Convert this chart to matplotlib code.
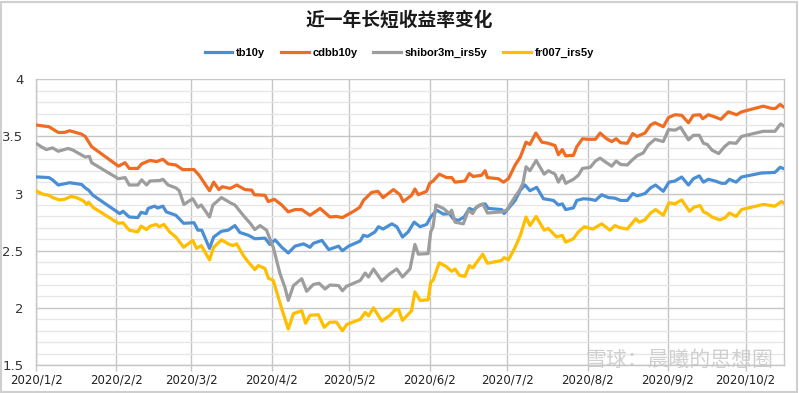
import matplotlib
matplotlib.use("Agg")
import matplotlib.pyplot as plt
from matplotlib.patches import Rectangle
from matplotlib.ticker import MultipleLocator
import pandas as pd

plt.rcParams['font.family'] = ['DejaVu Sans', 'Noto Sans CJK SC']

start_date = "2020-01-02"
tick_dates = ["2020-01-02", "2020-02-02", "2020-03-02", "2020-04-02", "2020-05-02",
              "2020-06-02", "2020-07-02", "2020-08-02", "2020-09-02", "2020-10-02"]
tick_labels = ["2020/1/2", "2020/2/2", "2020/3/2", "2020/4/2", "2020/5/2",
               "2020/6/2", "2020/7/2", "2020/8/2", "2020/9/2", "2020/10/2"]
series_names = ["tb10y", "cdbb10y", "shibor3m_irs5y", "fr007_irs5y"]
title = "近一年长短收益率变化"

# days since 2020-01-02, values (%)
tb10y_days = [0, 5, 6.4, 8.6, 13, 17.6, 19, 20.3, 22, 32.3, 33.6, 36, 39.3, 40.6, 42.5, 43.3, 45.8, 47, 49, 50.3,
              54, 57, 61, 62.5, 64, 67, 68.6, 71.6, 74.2, 76.8, 78.7, 82, 84.5, 88.4, 90.3, 92.3, 94.9, 97.4, 100,
              103.3, 105.8, 107.1, 110.4, 113, 116.8, 118.3, 120.7, 125.2, 126.4, 128, 130.9, 132.2, 134, 137.4,
              139.3, 141.5, 143.7, 146, 148.3, 150.8, 152.4, 154.7, 157.3, 159.6, 161.1, 163, 165.3, 167.3, 168.8,
              171.4, 173.4, 174.6, 179.8, 180.7, 182.4, 185, 187, 188.8, 190.7, 193.3, 195.9, 199.8, 201.7, 203.2,
              204.5, 207.5, 208.8, 211.4, 214, 216, 218.4, 221, 223.5, 225.7, 228.3, 230.4, 232.1, 235.1, 237.3,
              239.2, 242.2, 244.4, 246.7, 249.3, 251.9, 253.8, 256.1, 257.7, 259.6, 262.2, 264.7, 266.2, 267.7,
              270.3, 272.4, 280.1, 285.3, 287.3, 288.5]
tb10y = [3.146, 3.14, 3.12, 3.075, 3.095, 3.08, 3.05, 3.03, 2.985, 2.825, 2.845, 2.795, 2.79, 2.836, 2.825, 2.87,
         2.89, 2.874, 2.89, 2.84, 2.81, 2.74, 2.745, 2.68, 2.68, 2.52, 2.62, 2.67, 2.68, 2.72, 2.66, 2.635, 2.605,
         2.61, 2.555, 2.595, 2.53, 2.48, 2.54, 2.56, 2.53, 2.565, 2.59, 2.51, 2.54, 2.50, 2.54, 2.585, 2.635, 2.625,
         2.665, 2.71, 2.69, 2.735, 2.71, 2.62, 2.665, 2.75, 2.71, 2.73, 2.795, 2.855, 2.82, 2.825, 2.78, 2.765,
         2.795, 2.87, 2.855, 2.90, 2.91, 2.87, 2.86, 2.825, 2.87, 2.94, 3.03, 3.075, 3.025, 3.055, 2.955, 2.94,
         2.90, 2.91, 2.86, 2.875, 2.94, 2.955, 2.95, 2.94, 2.99, 2.965, 2.96, 2.94, 2.94, 3.00, 2.98, 3.00, 3.05,
         3.075, 3.02, 3.10, 3.11, 3.145, 3.075, 3.13, 3.155, 3.10, 3.125, 3.11, 3.09, 3.09, 3.125, 3.10, 3.145,
         3.18, 3.185, 3.23, 3.22]

cdbb10y_days = [0, 5, 8.6, 11, 13, 17.6, 19, 21.5, 31.8, 34.4, 36, 39.3, 40.8, 44, 46.6, 49, 51, 54, 56.6, 61, 63,
                67, 68.6, 70.6, 72, 75, 77.5, 80.7, 83.3, 84.3, 88.4, 89.7, 92, 94.9, 97.4, 100, 102.6, 105.8,
                109.7, 113.5, 116, 118.3, 123, 125, 126.4, 129.6, 132, 134, 138, 140.5, 141.8, 145, 146.3, 147.6,
                150.8, 152, 153.3, 155.7, 158.5, 160.5, 161.8, 165.6, 167.3, 168.8, 172, 173.4, 174.3, 178.5,
                180.5, 182.4, 185, 187, 189.2, 190.7, 193, 195.3, 197.8, 200.4, 201.7, 203.2, 204.5, 207.5, 208.8,
                211, 213, 216, 217.8, 220.3, 222.3, 224, 225.7, 228.3, 230.4, 232.1, 235.1, 237.3, 239, 242.2,
                244.2, 246.7, 249.3, 251.9, 253.8, 256.4, 257.4, 259.6, 262.2, 264.4, 267.3, 270.5, 272.4, 280.8,
                284, 285.5, 287.3, 288.5]
cdbb10y = [3.60, 3.585, 3.535, 3.535, 3.55, 3.52, 3.50, 3.41, 3.24, 3.27, 3.22, 3.22, 3.26, 3.29, 3.28, 3.30,
           3.26, 3.25, 3.21, 3.21, 3.16, 3.025, 3.10, 3.035, 3.06, 3.045, 3.075, 3.035, 3.03, 2.99, 2.985, 2.93,
           2.95, 2.90, 2.84, 2.86, 2.86, 2.81, 2.87, 2.795, 2.80, 2.79, 2.85, 2.88, 2.94, 3.01, 3.02, 2.965, 3.035,
           2.99, 2.93, 2.985, 3.04, 2.99, 3.02, 3.09, 3.11, 3.17, 3.14, 3.14, 3.10, 3.11, 3.175, 3.15, 3.16, 3.20,
           3.14, 3.13, 3.10, 3.13, 3.25, 3.32, 3.45, 3.43, 3.53, 3.45, 3.44, 3.42, 3.34, 3.385, 3.33, 3.335, 3.41,
           3.48, 3.475, 3.475, 3.53, 3.48, 3.455, 3.48, 3.445, 3.44, 3.525, 3.50, 3.53, 3.60, 3.62, 3.585, 3.665,
           3.69, 3.685, 3.62, 3.685, 3.69, 3.655, 3.69, 3.67, 3.65, 3.715, 3.69, 3.715, 3.765, 3.745, 3.745, 3.78,
           3.76]

shibor3m_irs5y_days = [0, 2, 4, 6.4, 8.6, 12.4, 14.3, 19, 20.6, 21.5, 31.8, 34.4, 36, 39.3, 40.8, 42.7, 44, 47.9,
                       49, 51, 54, 55.3, 57.1, 60.5, 62.5, 63.8, 67, 68.3, 71.6, 75, 76.8, 80, 82.7, 84.5, 86.5,
                       89, 91.6, 94.2, 96.1, 97.4, 99.4, 102.6, 104.5, 107.1, 109.3, 111.6, 113.5, 116.8, 118.3,
                       120, 125.2, 127.1, 128.4, 130.3, 133.5, 136.7, 139.3, 141.5, 144.4, 146.3, 147.6, 151.4,
                       152.4, 153.3, 154.4, 157.3, 159.6, 160.5, 161.8, 165, 166.9, 168.6, 170.1, 172.5, 174.3,
                       179.8, 181.7, 185, 186.7, 188, 189.2, 190.7, 193.1, 196.2, 197.8, 200.4, 201.7, 203.2,
                       204.5, 207.5, 209.4, 211, 214, 216, 217.8, 220.3, 222.3, 224, 225.7, 228.3, 230, 232, 234.4,
                       236.4, 239, 242.2, 244.2, 246.7, 248.9, 251.9, 253.8, 256.1, 257.7, 259.2, 261, 263.6,
                       265.8, 267.7, 270.3, 272.4, 277, 280.8, 285.3, 287.5, 288.5]
shibor3m_irs5y = [3.44, 3.41, 3.385, 3.40, 3.37, 3.395, 3.38, 3.32, 3.325, 3.27, 3.13, 3.14, 3.075, 3.075, 3.12,
                  3.075, 3.11, 3.115, 3.125, 3.075, 3.05, 3.025, 2.905, 2.955, 2.88, 2.90, 2.795, 2.90, 2.965,
                  2.92, 2.90, 2.81, 2.74, 2.685, 2.72, 2.68, 2.53, 2.30, 2.18, 2.065, 2.195, 2.255, 2.145, 2.205,
                  2.215, 2.165, 2.20, 2.195, 2.15, 2.19, 2.24, 2.305, 2.27, 2.34, 2.235, 2.30, 2.34, 2.27, 2.34,
                  2.555, 2.47, 2.475, 2.665, 2.71, 2.90, 2.87, 2.825, 2.855, 2.75, 2.735, 2.855, 2.825, 2.885,
                  2.91, 2.83, 2.84, 2.855, 2.975, 3.03, 3.09, 3.235, 3.20, 3.29, 3.17, 3.20, 3.17, 3.10, 3.16, 3.09,
                  3.125, 3.16, 3.22, 3.23, 3.285, 3.31, 3.27, 3.24, 3.285, 3.255, 3.25, 3.29, 3.33, 3.355, 3.425,
                  3.475, 3.455, 3.56, 3.555, 3.58, 3.47, 3.51, 3.51, 3.44, 3.43, 3.38, 3.35, 3.41, 3.445, 3.44,
                  3.50, 3.525, 3.545, 3.545, 3.61, 3.595]

fr007_irs5y_days = [0, 2.6, 5, 6.4, 9, 11, 13.6, 15.6, 18.4, 19.6, 20.3, 22, 31.8, 33.6, 36, 39.3, 40.6, 42.7, 44,
                    46.4, 47.6, 49.4, 51.6, 54, 57, 60.5, 62, 63.8, 67, 68.6, 71.6, 74.2, 76, 77.5, 80, 82, 84.5,
                    85.8, 88.4, 89.7, 91.6, 94.9, 97.4, 99.4, 102.6, 104.1, 105.8, 109, 111.3, 113.5, 116, 118.3,
                    120, 125.2, 127.1, 128.4, 130.3, 133.5, 136.7, 138.7, 140, 141.5, 145, 146.3, 148.3, 151.4,
                    152.4, 153.3, 155.7, 158.5, 160.5, 161.8, 163.5, 165.6, 167.3, 168.6, 172.5, 174.3, 179.8,
                    180.7, 182.4, 185, 187, 189.2, 190.7, 193.1, 196.2, 197.8, 201, 203.2, 204.5, 207.5, 209.4,
                    211.7, 215, 218.4, 221.6, 223.5, 225.7, 228.3, 231.6, 232.9, 235.1, 237.3, 239.2, 242.2, 244.4,
                    246.7, 249.3, 252.3, 254, 256.4, 257.7, 259.2, 261, 264, 266.2, 267.7, 270.3, 272.4, 280.8,
                    285.3, 287.8, 288.5]
fr007_irs5y = [3.025, 2.995, 2.985, 2.965, 2.945, 2.95, 2.975, 2.965, 2.935, 2.905, 2.925, 2.88, 2.74, 2.745,
               2.68, 2.665, 2.715, 2.685, 2.715, 2.73, 2.71, 2.73, 2.665, 2.62, 2.53, 2.59, 2.52, 2.545, 2.42, 2.53,
               2.595, 2.56, 2.545, 2.56, 2.46, 2.40, 2.335, 2.37, 2.345, 2.26, 2.24, 1.99, 1.815, 1.95, 1.975,
               1.865, 1.935, 1.94, 1.83, 1.875, 1.875, 1.80, 1.855, 1.90, 1.96, 1.93, 2.00, 1.885, 1.935, 1.985,
               1.985, 1.89, 1.975, 2.14, 2.065, 2.07, 2.225, 2.24, 2.395, 2.36, 2.32, 2.34, 2.285, 2.275, 2.37,
               2.35, 2.47, 2.39, 2.415, 2.44, 2.42, 2.53, 2.635, 2.795, 2.72, 2.80, 2.68, 2.695, 2.62, 2.635,
               2.575, 2.605, 2.665, 2.71, 2.69, 2.735, 2.68, 2.72, 2.70, 2.69, 2.78, 2.75, 2.77, 2.83, 2.86, 2.81,
               2.92, 2.91, 2.945, 2.845, 2.88, 2.895, 2.84, 2.825, 2.795, 2.77, 2.79, 2.83, 2.80, 2.86, 2.905,
               2.89, 2.93, 2.92]

colors = ["#4a8fd6", "#f06c22", "#9d9d9d", "#ffbe00"]

t0 = pd.Timestamp(start_date)
def to_dates(days):
    return t0 + pd.to_timedelta(days, unit="D")

fig = plt.figure(figsize=(7.99, 3.93), dpi=100)
ax = fig.add_axes([36 / 799, 1 - 365 / 393, (784 - 36) / 799, (365 - 79.3) / 393])

all_days = [tb10y_days, cdbb10y_days, shibor3m_irs5y_days, fr007_irs5y_days]
all_vals = [tb10y, cdbb10y, shibor3m_irs5y, fr007_irs5y]
for d, v, c, n in zip(all_days, all_vals, colors, series_names):
    ax.plot(to_dates(d), v, color=c, lw=2.3, label=n, solid_joinstyle="round", zorder=3)

ax.set_ylim(1.5, 4)
ax.set_xlim(t0, to_dates([max(max(d) for d in all_days) + 0.3])[0])
ax.yaxis.set_minor_locator(MultipleLocator(0.1))
ax.set_yticks([1.5, 2, 2.5, 3, 3.5, 4])
ax.set_yticklabels(["1.5", "2", "2.5", "3", "3.5", "4"])
ax.set_xticks(pd.to_datetime(tick_dates))
ax.set_xticklabels(tick_labels)

ax.grid(which="major", axis="both", color="#c6c6c6", lw=1.0, zorder=0)
ax.grid(which="minor", axis="y", color="#e6e6e6", lw=0.9, zorder=0)
ax.tick_params(axis="y", which="both", length=0, labelsize=9.5, colors="#333333", pad=9)
ax.tick_params(axis="x", which="major", length=4, width=1, color="#c6c6c6", labelsize=8.5,
               labelcolor="#222222", pad=2)
ax.tick_params(axis="x", which="minor", length=0)
for s in ax.spines.values():
    s.set_color("#c6c6c6")
    s.set_linewidth(1.0)
ax.spines["top"].set_visible(False)

fig.text(0.5, 1 - 20 / 393, title, ha="center", va="center", fontsize=13.5, fontweight="bold",
         family=["Noto Sans CJK SC"], color="#1a1a1a")

fig.legend(loc="center", bbox_to_anchor=(0.5, 1 - 53 / 393), ncol=4, frameon=False,
           prop={"size": 8, "weight": "bold", "family": "Liberation Sans"},
           handlelength=2.5, columnspacing=1.4, handletextpad=0.35)

fig.text(0.85, 1 - 360 / 393, "雪球：晨曦的思想圈", ha="center", va="center", fontsize=15,
         family=["Noto Sans CJK SC"], color="#c4c4c4", alpha=0.8)

fig.patches.append(Rectangle((1 / 799, 1 / 393), 796 / 799, 390 / 393, transform=fig.transFigure,
                             fill=False, edgecolor="#cfcfcf", lw=1.5))

fig.savefig("out.png", dpi=100)
